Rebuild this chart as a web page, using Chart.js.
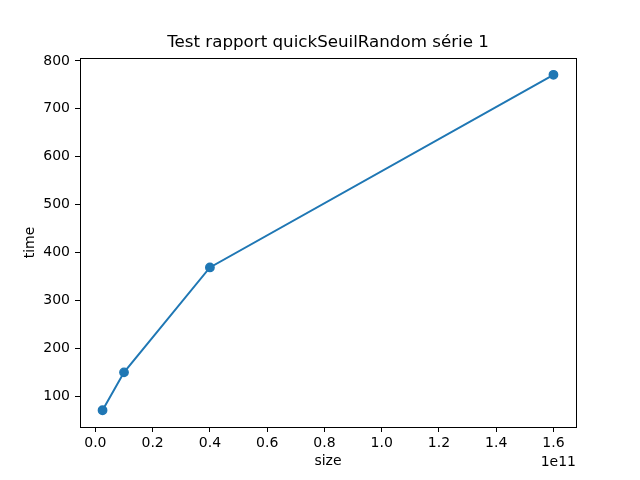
<!DOCTYPE html>
<html>
<head>
<meta charset="utf-8">
<script src="https://cdn.jsdelivr.net/npm/chart.js@4/dist/chart.umd.min.js"></script>
<style>
html,body{margin:0;padding:0;background:#fff;}
canvas{display:block;}
</style>
</head>
<body>
<canvas id="c" width="640" height="480"></canvas>
<script>
const sizes = [2.5e9, 1e10, 4e10, 1.6e11];
const times = [71, 150, 369, 771];
const xTicks = [0, 0.2e11, 0.4e11, 0.6e11, 0.8e11, 1.0e11, 1.2e11, 1.4e11, 1.6e11];
const yTicks = [100, 200, 300, 400, 500, 600, 700, 800];
const titleText = 'Test rapport quickSeuilRandom série 1';
const xLabel = 'size';
const yLabel = 'time';
const offsetText = '1e11';

const color = '#1f77b4';
const font = "'DejaVu Sans', sans-serif";

const xMinD = Math.min(...sizes), xMaxD = Math.max(...sizes);
const yMinD = Math.min(...times), yMaxD = Math.max(...times);
const xm = (xMaxD - xMinD) * 0.05, ym = (yMaxD - yMinD) * 0.05;

const framePlugin = {
  id: 'frame',
  afterDraw(chart) {
    const {ctx, chartArea: a} = chart;
    ctx.save();
    ctx.strokeStyle = '#000';
    ctx.lineWidth = 1;
    ctx.strokeRect(Math.round(a.left) + 0.5, Math.round(a.top) + 0.5,
      Math.round(a.right - a.left), Math.round(a.bottom - a.top));
    ctx.fillStyle = '#000';
    ctx.font = '14px ' + font;
    ctx.textAlign = 'right';
    ctx.textBaseline = 'middle';
    ctx.fillText(offsetText, a.right, 462);
    ctx.restore();
  }
};

new Chart(document.getElementById('c'), {
  type: 'line',
  data: {
    datasets: [{
      data: sizes.map((s, i) => ({x: s, y: times[i]})),
      borderColor: color,
      backgroundColor: color,
      borderWidth: 2,
      pointRadius: 4.2,
      pointHoverRadius: 4.2,
      pointBorderWidth: 1.4,
      tension: 0
    }]
  },
  options: {
    responsive: false,
    animation: false,
    events: [],
    layout: {padding: {left: 0, right: 64, top: 0, bottom: 0}},
    plugins: {
      legend: {display: false},
      tooltip: {enabled: false},
      title: {
        display: true,
        fullSize: false,
        text: titleText,
        color: '#000',
        font: {family: font, size: 16.7, weight: 'normal'},
        padding: {top: 33, bottom: 5}
      }
    },
    scales: {
      x: {
        type: 'linear',
        min: xMinD - xm,
        max: xMaxD + xm,
        afterFit(s) { s.height = 53; },
        afterBuildTicks(s) { s.ticks = xTicks.map(v => ({value: v})); },
        ticks: {
          color: '#000',
          font: {family: font, size: 14},
          padding: 3,
          maxRotation: 0,
          autoSkip: false,
          callback: v => (v / 1e11).toFixed(1)
        },
        grid: {display: true, drawOnChartArea: false, drawTicks: true, tickLength: 5, color: '#000'},
        border: {display: false},
        title: {display: true, text: xLabel, color: '#000', font: {family: font, size: 14}, padding: {top: 0, bottom: 10}}
      },
      y: {
        type: 'linear',
        min: yMinD - ym,
        max: yMaxD + ym,
        afterFit(s) { s.width = 80; },
        afterBuildTicks(s) { s.ticks = yTicks.map(v => ({value: v})); },
        ticks: {
          color: '#000',
          font: {family: font, size: 14},
          padding: 5,
          autoSkip: false,
          callback: v => String(v)
        },
        grid: {display: true, drawOnChartArea: false, drawTicks: true, tickLength: 5, color: '#000'},
        border: {display: false},
        title: {display: true, text: yLabel, color: '#000', font: {family: font, size: 14}, padding: {top: 22, bottom: 0}}
      }
    }
  },
  plugins: [framePlugin]
});
</script>
</body>
</html>
